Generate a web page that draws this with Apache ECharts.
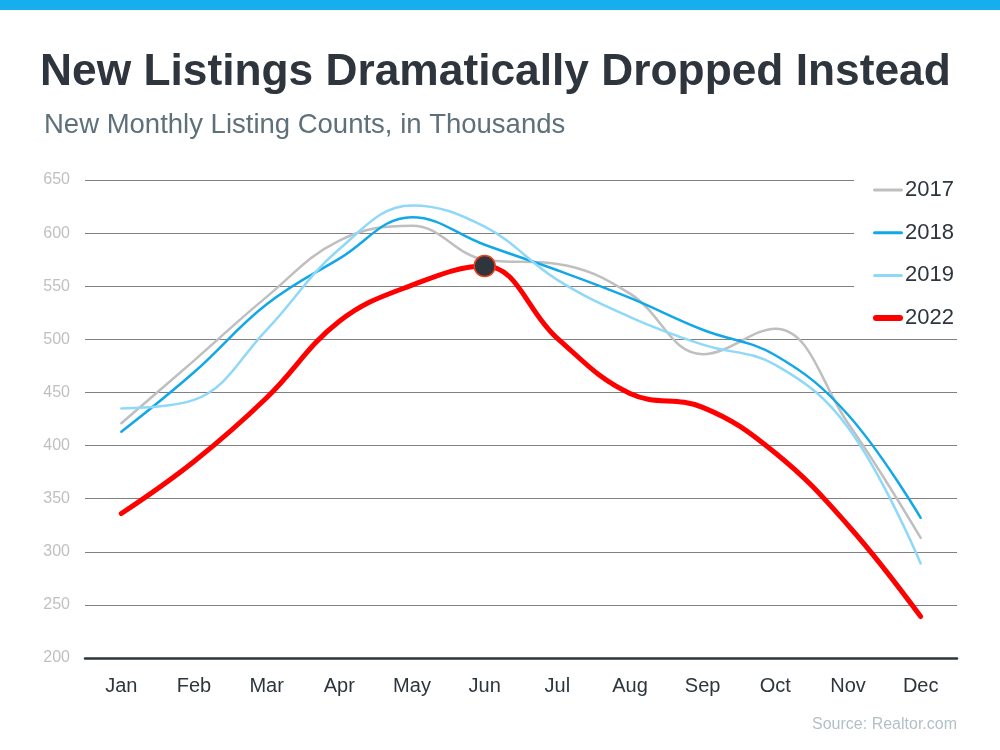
<!DOCTYPE html>
<html>
<head>
<meta charset="utf-8">
<script src="https://cdn.jsdelivr.net/npm/echarts@6/dist/echarts.min.js"></script>
<style>
  html, body { margin: 0; padding: 0; background: #fff; }
  #main { width: 1000px; height: 750px; }
</style>
</head>
<body>
<div id="main"></div>
<script>
var months = ['Jan', 'Feb', 'Mar', 'Apr', 'May', 'Jun', 'Jul', 'Aug', 'Sep', 'Oct', 'Nov', 'Dec'];
var y2017 = [421, 480, 540, 593, 607, 575, 571, 543, 486, 510, 421, 313];
var y2018 = [413, 469, 533, 576, 615, 589, 565, 539, 509, 485, 429, 332];
var y2019 = [435, 443, 509, 585, 626, 606, 556, 521, 495, 476, 417, 289];
var y2022 = [336, 385, 445, 517, 551, 569, 501, 449, 436, 393, 325, 239];
var yTicks = [200, 250, 300, 350, 400, 450, 500, 550, 600, 650];

var chart = echarts.init(document.getElementById('main'));

function lineSeries(name, data, color, width) {
  return {
    name: name,
    type: 'line',
    data: data,
    smooth: 0.4,
    symbol: 'none',
    showSymbol: false,
    lineStyle: { color: color, width: width, cap: 'round' },
    itemStyle: { color: color },
    z: 3
  };
}

var red = lineSeries('2022', y2022, '#ff0000', 5);
red.z = 4;
red.markPoint = {
  symbol: 'circle',
  symbolSize: 21,
  label: { show: false },
  itemStyle: { color: '#2e353d', borderColor: '#e8401c', borderWidth: 1.5 },
  data: [{ coord: ['Jun', y2022[5]] }]
};

// thin bar icons for the legend, the red one thicker
var thinIcon = 'path://M1.5,0 L28.5,0 A1.5,1.5 0 0 1 28.5,3 L1.5,3 A1.5,1.5 0 0 1 1.5,0 Z';
var thickIcon = 'path://M3,0 L27,0 A3,3 0 0 1 27,6 L3,6 A3,3 0 0 1 3,0 Z';

chart.setOption({
  animation: false,
  title: [{
    text: 'New Listings Dramatically Dropped Instead',
    left: 35,
    top: 46,
    textStyle: { fontFamily: 'Liberation Sans', fontWeight: 'bold', fontSize: 44.3, color: '#2e353d' }
  }, {
    text: 'New Monthly Listing Counts, in Thousands',
    left: 39,
    top: 106,
    textStyle: { fontFamily: 'Liberation Sans', fontWeight: 'normal', fontSize: 27.5, color: '#5e7079' }
  }, {
    text: 'Source: Realtor.com',
    right: 38,
    top: 712,
    textStyle: { fontFamily: 'Liberation Sans', fontWeight: 'normal', fontSize: 16, color: '#b3c0c7' }
  }],
  graphic: [{
    type: 'rect',
    shape: { x: 0, y: 0, width: 1000, height: 10 },
    style: { fill: '#17aeef' }
  }],
  legend: {
    orient: 'vertical',
    left: 854,
    top: 171,
    padding: [8, 10, 8, 19],
    backgroundColor: '#ffffff',
    itemWidth: 30,
    itemHeight: 14,
    itemGap: 20.7,
    textStyle: { fontFamily: 'Liberation Sans', fontSize: 22, color: '#2e353d', padding: [0, 0, 0, -3] },
    data: [
      { name: '2017', icon: thinIcon },
      { name: '2018', icon: thinIcon },
      { name: '2019', icon: thinIcon },
      { name: '2022', icon: thickIcon }
    ]
  },
  grid: { left: 85, right: 43, top: 180, bottom: 92 },
  xAxis: {
    type: 'category',
    data: months,
    boundaryGap: true,
    axisLine: { lineStyle: { color: '#2e353d', width: 2.5 } },
    axisTick: { show: false },
    axisLabel: { fontFamily: 'Liberation Sans', fontSize: 20, color: '#2e353d', margin: 18 }
  },
  yAxis: {
    type: 'value',
    min: yTicks[0],
    max: yTicks[yTicks.length - 1],
    interval: 50,
    axisLine: { show: false },
    axisTick: { show: false },
    splitLine: { lineStyle: { color: '#808080', width: 1 } },
    axisLabel: { fontFamily: 'Liberation Sans', fontSize: 16, color: '#c0c0c0', margin: 15 }
  },
  series: [
    lineSeries('2017', y2017, '#bfbfbf', 2.5),
    lineSeries('2018', y2018, '#12a8e8', 2.5),
    lineSeries('2019', y2019, '#8fd8f8', 2.5),
    red
  ]
});
</script>
</body>
</html>
